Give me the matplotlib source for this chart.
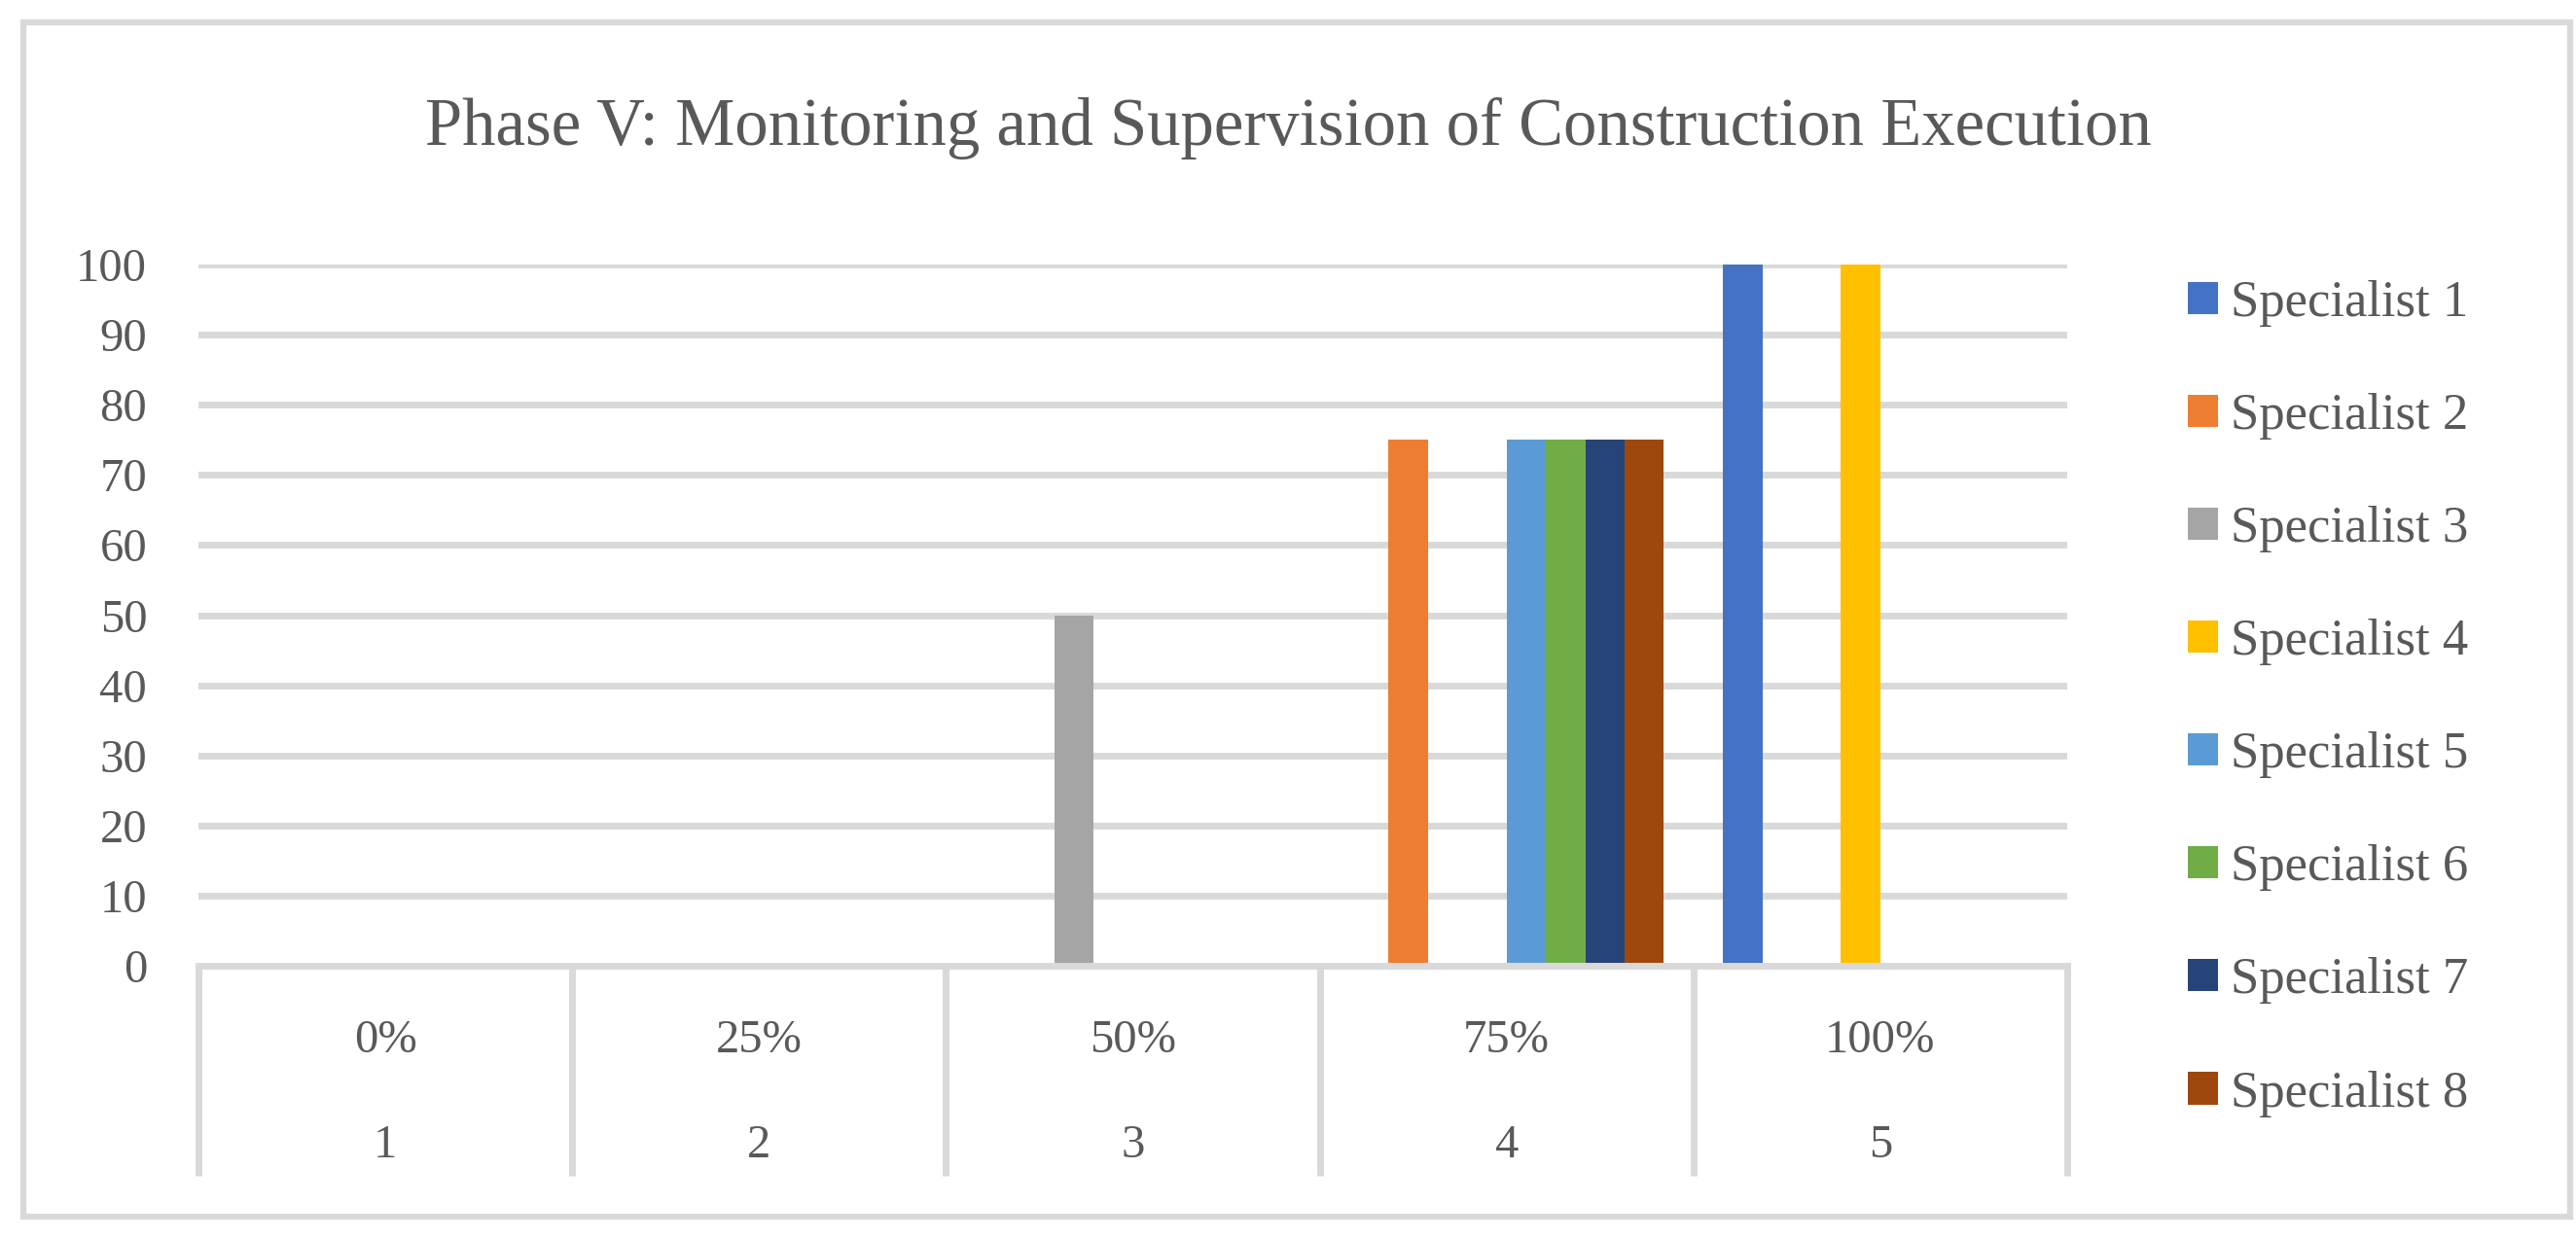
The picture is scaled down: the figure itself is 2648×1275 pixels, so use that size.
import numpy as np
import matplotlib.pyplot as plt
from matplotlib.patches import Rectangle

# Data
categories = [1, 2, 3, 4, 5]
top_labels = ["0%", "25%", "50%", "75%", "100%"]
series_names = [f"Specialist {i}" for i in range(1, 9)]
specialist_1 = [0, 0, 0, 0, 100]
specialist_2 = [0, 0, 0, 75, 0]
specialist_3 = [0, 0, 50, 0, 0]
specialist_4 = [0, 0, 0, 0, 100]
specialist_5 = [0, 0, 0, 75, 0]
specialist_6 = [0, 0, 0, 75, 0]
specialist_7 = [0, 0, 0, 75, 0]
specialist_8 = [0, 0, 0, 75, 0]
series_values = [specialist_1, specialist_2, specialist_3, specialist_4,
                 specialist_5, specialist_6, specialist_7, specialist_8]
colors = ["#4472C4", "#ED7D31", "#A5A5A5", "#FFC000",
          "#5B9BD5", "#70AD47", "#264478", "#9E480E"]

TEXT = "#595959"
GRID = "#D9D9D9"
FONT = "Liberation Serif"
W, H = 2648, 1275

plt.rcParams["font.family"] = FONT

fig = plt.figure(figsize=(W / 100, H / 100), dpi=100)

# plot area in pixels
left, right, top, bottom = 204, 2125, 272, 993
ax = fig.add_axes([left / W, 1 - bottom / H, (right - left) / W, (bottom - top) / H])

x = np.arange(len(categories))
n = len(series_values)
bar_w = 1 / (n + 1.5)  # Excel gap width 150%
for i, (name, vals, col) in enumerate(zip(series_names, series_values, colors)):
    ax.bar(x + (i - (n - 1) / 2) * bar_w, vals, width=bar_w, color=col,
           label=name, zorder=3)

ax.set_xlim(-0.5, len(categories) - 0.5)
ax.set_ylim(0, 100)
ax.set_yticks(range(0, 101, 10))
ax.set_xticks([])
ax.tick_params(axis="y", length=0, pad=38, labelsize=35, labelcolor=TEXT)
ax.yaxis.grid(True, color=GRID, linewidth=5, zorder=0)
ax.set_axisbelow(True)
for s in ["left", "right", "top"]:
    ax.spines[s].set_visible(False)
ax.spines["bottom"].set_color(GRID)
ax.spines["bottom"].set_linewidth(5)
ax.spines["bottom"].set_zorder(4)

# multi-level category axis
trans = ax.get_xaxis_transform()
span = bottom - top
for b in np.arange(len(categories) + 1) - 0.5:
    ax.plot([b, b], [0, -(1209 - bottom) / span], transform=trans, color=GRID, lw=5,
            clip_on=False, solid_capstyle="butt")
for xi, lab, cat in zip(x, top_labels, categories):
    ax.text(xi, -(1070 - bottom) / span, lab, transform=trans,
            ha="center", va="center", fontsize=35, color=TEXT)
    ax.text(xi, -(1178 - bottom) / span, str(cat), transform=trans,
            ha="center", va="center", fontsize=35, color=TEXT)

fig.text(0.5, 1 - 149 / H, "Phase V: Monitoring and Supervision of Construction Execution",
         ha="center", va="baseline", fontsize=49.5, color=TEXT)

leg = ax.legend(loc="upper left", bbox_to_anchor=(2249 / W, 1 - 288 / H),
                bbox_transform=fig.transFigure, frameon=False, fontsize=38,
                handlelength=0.59, handleheight=0.59, handletextpad=0.25,
                labelspacing=1.29, borderpad=0, borderaxespad=0)
for t in leg.get_texts():
    t.set_color(TEXT)

fig.patches.append(Rectangle((24 / W, 1 - 1251 / H), (2642 - 24) / W, (1251 - 23) / H,
                             transform=fig.transFigure, fill=False,
                             edgecolor=GRID, linewidth=4.5))

fig.savefig("out.png", dpi=100)
